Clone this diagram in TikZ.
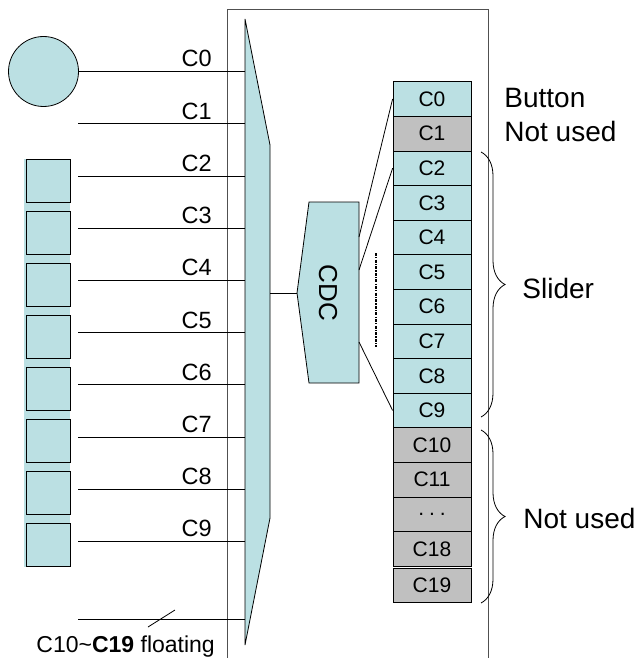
\documentclass[tikz,border=0pt]{standalone}
\usepackage{fontspec}
\setmainfont{Liberation Sans}
\usetikzlibrary{decorations.pathreplacing,calc}
\definecolor{cblue}{HTML}{BBE0E3}
\definecolor{cgray}{HTML}{C0C0C0}
\definecolor{framec}{HTML}{505050}
\begin{document}
\begin{tikzpicture}[x=1pt,y=-1pt, line width=0.8pt,
  lbl/.style={anchor=base east, inner sep=0pt, font=\fontsize{23.5}{28}\selectfont},
  cell/.style={draw, minimum width=78pt, minimum height=34.6pt, inner sep=0pt, font=\fontsize{21}{24}\selectfont},
  side/.style={anchor=base west, inner sep=0pt, font=\fontsize{28}{32}\selectfont},
  pad/.style={draw, fill=cblue, minimum width=44pt, minimum height=43pt, inner sep=0pt},
  bracefig/.style={decorate, decoration={brace, amplitude=24pt}}
]
\useasboundingbox (0,0) rectangle (636,658);
\fill[white] (0,0) rectangle (636,658);

% frame
\draw[framec, line width=1pt] (227,658) -- (227,10) -- (488,10) -- (488,658);

% multiplexer
\draw[fill=cblue] (245,19) -- (270,145) -- (270,518) -- (245,645) -- cycle;

% button
\node[circle, draw, fill=cblue, minimum size=70pt, inner sep=0pt] (btn) at (43.5,71.5) {};
\coordinate (m0) at (245,71.5);
\draw (btn.east) -- (m0);
\node[lbl] (l0) at (212,67) {C0};

% slider pads
\fill[cblue] (24,159) rectangle (70,567);
\foreach \i in {0,...,7} {
  \node[pad] (p\i) at (48,{180.5+52*\i}) {};
}

% wires
\foreach \i in {1,...,9} {
  \coordinate (w\i) at (78,{71.5+52.2*\i});
  \coordinate (m\i) at (245,{71.5+52.2*\i});
  \draw (w\i) -- (m\i);
  \node[lbl] (l\i) at (212,{67+52.2*\i}) {C\i};
}
\coordinate (wf) at (78,619.5);
\coordinate (mf) at (245,619.5);
\draw (wf) -- (mf);
\coordinate (sa) at (148,627);
\coordinate (sb) at (175,610);
\draw (sa) -- (sb);
\node[anchor=base west, inner sep=0pt, font=\fontsize{23}{26}\selectfont] (fl) at (36,652) {C10\textasciitilde\textbf{C19} floating};

% CDC
\draw[fill=cblue] (309,202) -- (359,202) -- (359,383) -- (309,383) -- (297,293) -- cycle;
\node[rotate=-90, inner sep=0pt, font=\fontsize{26}{30}\selectfont] (cdc) at (328,293) {CDC};
\coordinate (mo) at (270,293);
\coordinate (ci) at (297,293);
\draw (mo) -- (ci);

% table
\foreach \k/\t/\c in {0/C0/cblue,1/C1/cgray,2/C2/cblue,3/C3/cblue,4/C4/cblue,5/C5/cblue,6/C6/cblue,7/C7/cblue,8/C8/cblue,9/C9/cblue,10/C10/cgray,11/C11/cgray,12/{.\hspace{5pt}.\hspace{5pt}.}/cgray,13/C18/cgray} {
  \node[cell, fill=\c] (t\k) at (432,{81.7+17.3+34.6*\k}) {\t};
}
\node[cell, fill=cgray] (t14) at (432,585.5) {C19};

% CDC to table
\coordinate (c0) at (359,237);
\coordinate (c1) at (359,270);
\coordinate (c2) at (359,342);
\draw (c0) -- (t0.west);
\draw (c1) -- (t2.west);
\draw (c2) -- (t9.west);
\coordinate (da) at (376,253);
\coordinate (db) at (376,347);
\draw[line width=1.4pt, dash pattern=on 3pt off 1.2pt on 1.2pt off 1.2pt] (da) -- (db);

% braces
\coordinate (ba) at (481,152);
\coordinate (bb) at (481,417);
\draw[bracefig] (ba) -- (bb);
\coordinate (bc) at (481,430);
\coordinate (bd) at (481,603);
\draw[bracefig] (bc) -- (bd);

% side labels
\node[side] (s0) at (504,107) {Button};
\node[side] (s1) at (504,142) {Not used};
\node[side] (s2) at (522,298) {Slider};
\node[side] (s3) at (523,528) {Not used};
\end{tikzpicture}
\end{document}
